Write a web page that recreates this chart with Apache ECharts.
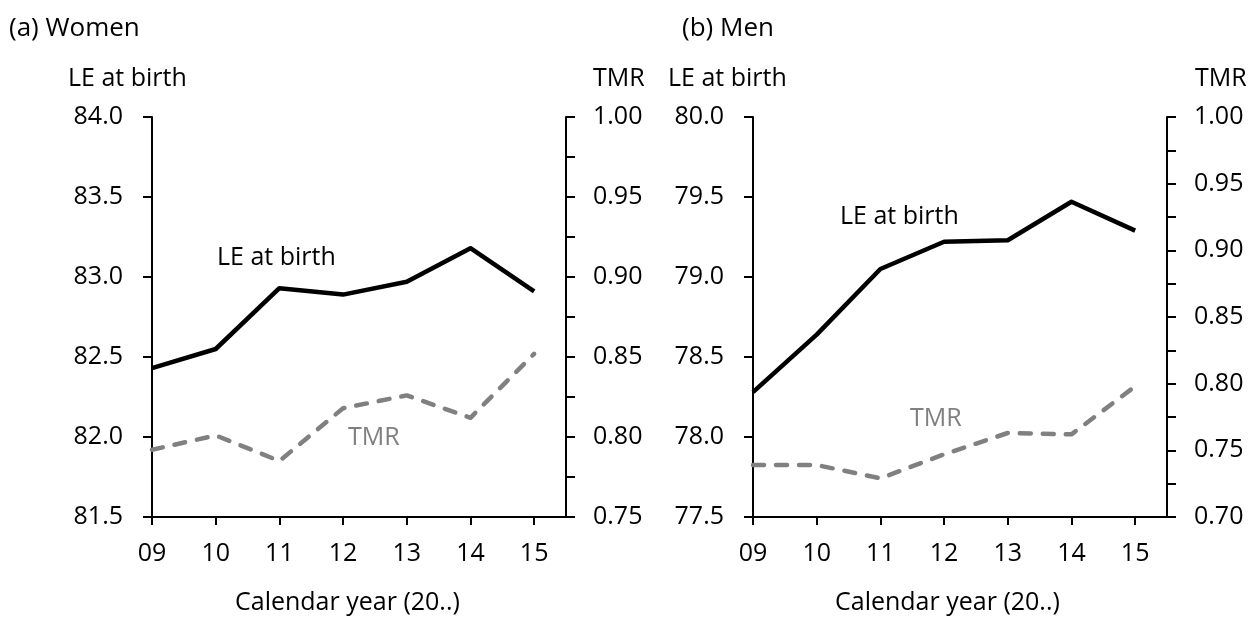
<!DOCTYPE html>
<html>
<head>
<meta charset="utf-8">
<script src="https://cdn.jsdelivr.net/npm/echarts@6/dist/echarts.min.js"></script>
<style>
  html, body { margin: 0; padding: 0; background: #fff; }
  #chart { width: 1258px; height: 617px; }
</style>
</head>
<body>
<div id="chart"></div>
<script>
// Calendar years shown on both panels
const years = [2009, 2010, 2011, 2012, 2013, 2014, 2015];

// (a) Women
const womenLE = [82.43, 82.55, 82.93, 82.89, 82.97, 83.18, 82.91];
const womenTMR = [0.792, 0.801, 0.785, 0.818, 0.826, 0.812, 0.852];

// (b) Men
const menLE = [78.28, 78.64, 79.05, 79.22, 79.23, 79.47, 79.29];
const menTMR = [0.739, 0.739, 0.729, 0.747, 0.763, 0.762, 0.798];

// Axis ranges
const womenLERange = [81.5, 84.0];
const womenTMRRange = [0.75, 1.0];
const menLERange = [77.5, 80.0];
const menTMRRange = [0.70, 1.0];

const FONT = "'Open Sans', 'Noto Sans', sans-serif";
const FS = 25;
const GREY = '#808080';

const chart = echarts.init(document.getElementById('chart'), null, { renderer: 'canvas' });

const axisLineStyle = { show: true, lineStyle: { color: '#000', width: 2 } };

function xAxisFor(gridIndex) {
  return {
    type: 'value',
    gridIndex,
    min: years[0],
    max: years[years.length - 1] + 0.5,
    interval: 1,
    axisLine: axisLineStyle,
    axisTick: { show: true, length: 8, customValues: years, lineStyle: { color: '#000', width: 2 } },
    axisLabel: {
      customValues: years,
      formatter: v => String(v % 100).padStart(2, '0'),
      fontFamily: FONT, fontSize: FS, color: '#000', margin: 24
    },
    splitLine: { show: false }
  };
}

function leftAxisFor(gridIndex, range) {
  return {
    type: 'value', gridIndex, position: 'left',
    min: range[0], max: range[1], interval: 0.5,
    axisLine: axisLineStyle,
    axisTick: { show: true, length: 9, lineStyle: { color: '#000', width: 2 } },
    axisLabel: { formatter: v => v.toFixed(1), fontFamily: FONT, fontSize: FS, color: '#000', margin: 29 },
    splitLine: { show: false }
  };
}

function rightAxisFor(gridIndex, range) {
  return {
    type: 'value', gridIndex, position: 'right',
    min: range[0], max: range[1], interval: 0.05,
    axisLine: axisLineStyle,
    axisTick: { show: true, length: 9, lineStyle: { color: '#000', width: 2 } },
    minorTick: { show: true, splitNumber: 2, length: 9, lineStyle: { color: '#000', width: 2 } },
    axisLabel: { formatter: v => v.toFixed(2), fontFamily: FONT, fontSize: FS, color: '#000', margin: 27 },
    splitLine: { show: false },
    minorSplitLine: { show: false }
  };
}

function pairs(values) {
  return values.map((v, i) => [years[i], v]);
}

function leSeries(xi, yi, values) {
  return {
    type: 'line', xAxisIndex: xi, yAxisIndex: yi,
    data: pairs(values), showSymbol: false, symbol: 'none', silent: true, z: 3,
    lineStyle: { color: '#000', width: 4.5, join: 'round' }
  };
}

function tmrSeries(xi, yi, values) {
  return {
    type: 'line', xAxisIndex: xi, yAxisIndex: yi,
    data: pairs(values), showSymbol: false, symbol: 'none', silent: true, z: 2,
    lineStyle: { color: GREY, width: 4.5, type: [11, 12], cap: 'round', join: 'round' }
  };
}

// Free-standing text, x = left edge, y = vertical centre of the capitals
function text(str, x, y, color, size) {
  const fs = size || FS;
  return {
    type: 'text', x: x, y: y + 2,
    style: { text: str, fill: color || '#000', font: `${fs}px ${FONT}`, verticalAlign: 'middle' }
  };
}

chart.setOption({
  animation: false,
  backgroundColor: '#fff',
  grid: [
    { left: 152, top: 117, width: 414, height: 400 },
    { left: 753, top: 117, width: 414, height: 400 }
  ],
  xAxis: [xAxisFor(0), xAxisFor(1)],
  yAxis: [
    leftAxisFor(0, womenLERange),
    rightAxisFor(0, womenTMRRange),
    leftAxisFor(1, menLERange),
    rightAxisFor(1, menTMRRange)
  ],
  series: [
    leSeries(0, 0, womenLE),
    tmrSeries(0, 1, womenTMR),
    leSeries(1, 2, menLE),
    tmrSeries(1, 3, menTMR)
  ],
  graphic: [
    text('(a) Women', 9, 27, '#000', 26),
    text('(b) Men', 682, 27, '#000', 26),
    text('LE at birth', 68, 77),
    text('TMR', 593, 77),
    text('LE at birth', 668, 77),
    text('TMR', 1195, 77),
    text('Calendar year (20..)', 235, 601),
    text('Calendar year (20..)', 835, 601),
    text('LE at birth', 217, 256),
    text('TMR', 348, 436, GREY),
    text('LE at birth', 840, 215),
    text('TMR', 910, 417, GREY)
  ]
});
</script>
</body>
</html>
